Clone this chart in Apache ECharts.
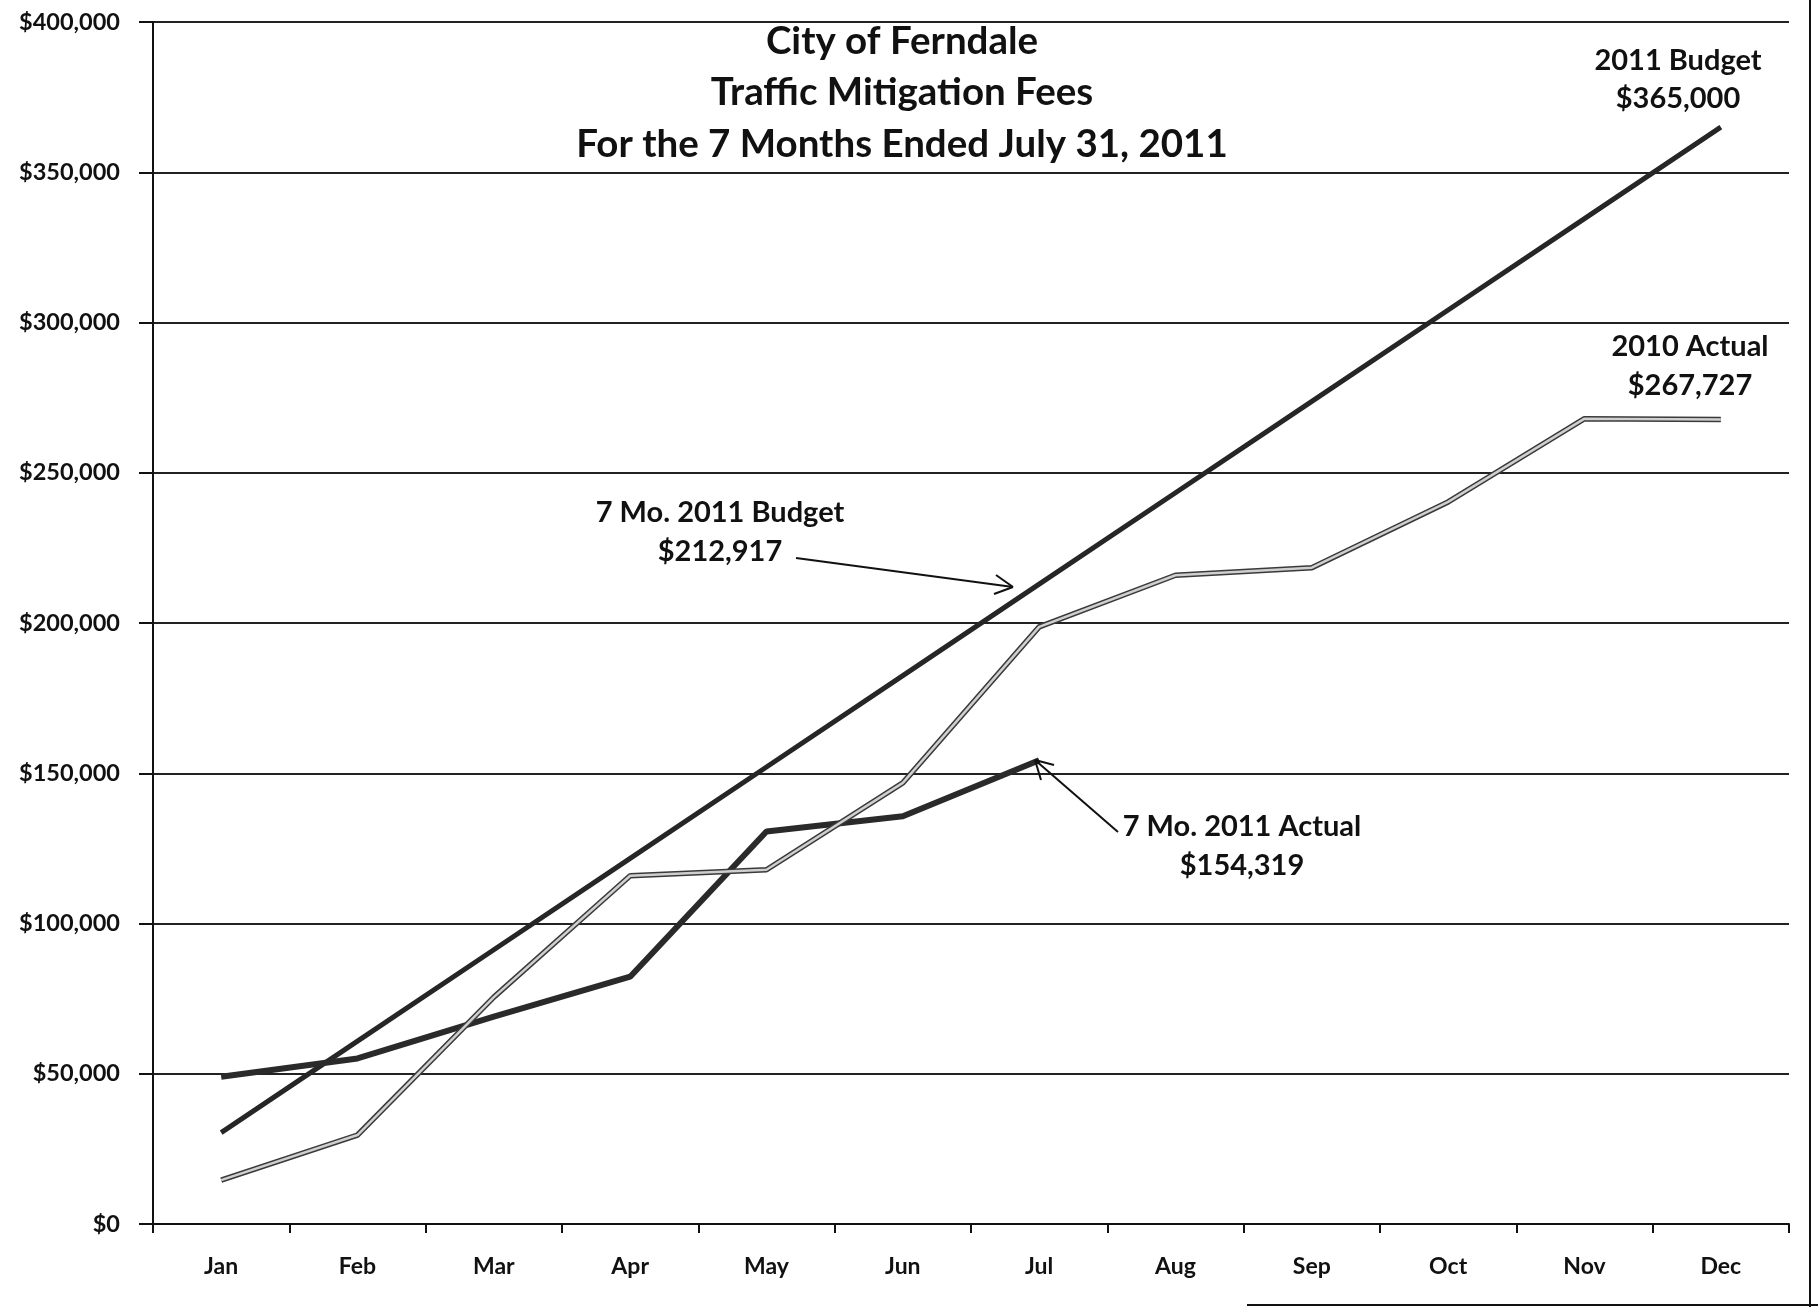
<!DOCTYPE html>
<html>
<head>
<meta charset="utf-8">
<style>
  html, body { margin: 0; padding: 0; background: #fff; }
  #chart { width: 1818px; height: 1307px; }
</style>
<script src="https://cdn.jsdelivr.net/npm/echarts@6/dist/echarts.min.js"></script>
</head>
<body>
<div id="chart"></div>
<script>
// ---- Data ----
var months = ['Jan', 'Feb', 'Mar', 'Apr', 'May', 'Jun', 'Jul', 'Aug', 'Sep', 'Oct', 'Nov', 'Dec'];
var budget2011 = [30417, 60833, 91250, 121667, 152083, 182500, 212917, 243333, 273750, 304167, 334583, 365000];
var actual2011 = [49000, 55100, 69000, 82300, 130600, 135700, 154319];
var actual2010 = [14600, 29600, 75500, 115900, 117900, 146800, 198700, 215900, 218400, 240300, 268000, 267727];
var yTicks = [0, 50000, 100000, 150000, 200000, 250000, 300000, 350000, 400000];
var titleLines = ['City of Ferndale', 'Traffic Mitigation Fees', 'For the 7 Months Ended July 31, 2011'];

var FONT = 'Lato, "Open Sans", sans-serif';
var chart = echarts.init(document.getElementById('chart'), null, { renderer: 'canvas' });

function money(v) {
  return '$' + String(v).replace(/\B(?=(\d{3})+(?!\d))/g, ',');
}

var txt = function (x, y, s, size) {
  return {
    type: 'text', x: x, y: y, z: 100,
    style: { text: s, fill: '#111', font: 'bold ' + size + 'px ' + FONT, align: 'center', verticalAlign: 'middle' }
  };
};
var seg = function (x1, y1, x2, y2) {
  return {
    type: 'line', z: 100,
    shape: { x1: x1, y1: y1, x2: x2, y2: y2 },
    style: { stroke: '#111', lineWidth: 2 }
  };
};

var option = {
  backgroundColor: '#ffffff',
  animation: false,
  grid: { left: 153, right: 29, top: 22, bottom: 83 },
  xAxis: {
    type: 'category',
    data: months,
    boundaryGap: true,
    axisLine: { show: true, lineStyle: { color: '#111', width: 2 } },
    axisTick: { show: true, length: 9, inside: false, lineStyle: { color: '#111', width: 2 } },
    axisLabel: { color: '#111', fontFamily: FONT, fontWeight: 'bold', fontSize: 23, margin: 31 },
    splitLine: { show: false }
  },
  yAxis: {
    type: 'value',
    min: yTicks[0],
    max: yTicks[yTicks.length - 1],
    interval: yTicks[1] - yTicks[0],
    axisLine: { show: true, lineStyle: { color: '#111', width: 2 } },
    axisTick: { show: true, length: 14, lineStyle: { color: '#111', width: 2 } },
    axisLabel: { color: '#111', fontFamily: FONT, fontWeight: 'bold', fontSize: 23.5, margin: 33, formatter: money },
    splitLine: { show: true, lineStyle: { color: '#222', width: 2 } }
  },
  series: [
    {
      name: '2011 Budget', type: 'line', data: budget2011, showSymbol: false, z: 3,
      lineStyle: { color: '#262626', width: 5 }
    },
    {
      name: '2011 Actual', type: 'line', data: actual2011, showSymbol: false, z: 4,
      lineStyle: { color: '#2a2a2a', width: 6 }
    },
    {
      name: '2010 Actual outline', type: 'line', data: actual2010, showSymbol: false, z: 5,
      lineStyle: { color: '#3a3a3a', width: 5.5 }
    },
    {
      name: '2010 Actual', type: 'line', data: actual2010, showSymbol: false, z: 6,
      lineStyle: { color: '#cfcfcf', width: 2.5 }
    }
  ],
  graphic: [
    txt(902, 42, titleLines[0], 38.5),
    txt(902, 93, titleLines[1], 38.5),
    txt(902, 145, titleLines[2], 38.5),
    txt(1678, 61, '2011 Budget', 29),
    txt(1678, 99, money(budget2011[11]), 29),
    txt(1690, 347, '2010 Actual', 29),
    txt(1690, 386, money(actual2010[11]), 29),
    txt(720, 513, '7 Mo. 2011 Budget', 29),
    txt(720, 552, money(budget2011[6]), 29),
    txt(1242, 827, '7 Mo. 2011 Actual', 29),
    txt(1242, 866, money(actual2011[6]), 29),
    // arrow to 7-month budget
    seg(796, 558, 1013, 587),
    seg(1013, 587, 996, 575),
    seg(1013, 587, 994, 594),
    // arrow to 7-month actual
    seg(1118, 832, 1035, 760),
    seg(1035, 760, 1054, 765),
    seg(1035, 760, 1041, 780),
    // page frame remnants
    seg(1810, 0, 1810, 1307),
    seg(1247, 1305, 1818, 1305)
  ]
};
chart.setOption(option);
</script>
</body>
</html>
